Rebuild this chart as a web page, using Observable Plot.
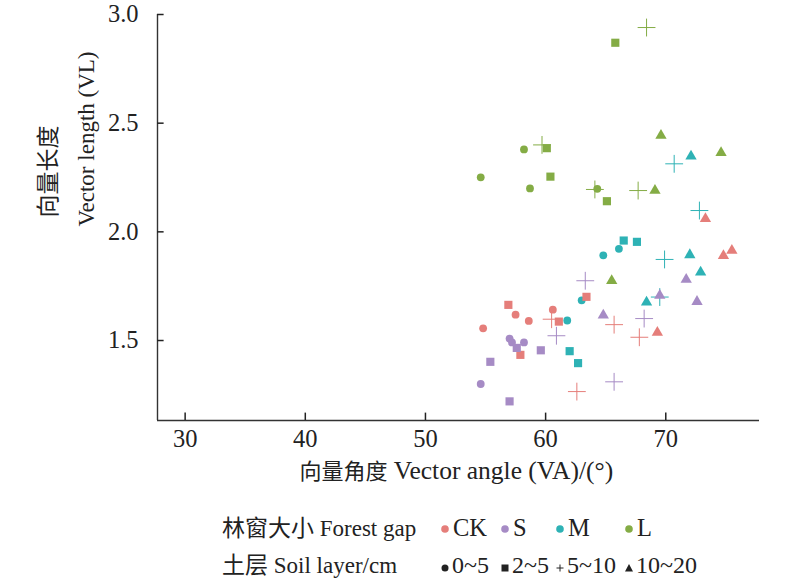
<!DOCTYPE html>
<html>
<head>
<meta charset="utf-8">
<script src="https://cdn.jsdelivr.net/npm/d3@7"></script>
<script src="https://cdn.jsdelivr.net/npm/@observablehq/plot@0.6"></script>
<style>
  body { margin: 0; background: #fff; }
  #chart { position: relative; width: 800px; font-family: "Liberation Serif", "Noto Sans CJK SC", serif; color: #222; }
  #legend { position: relative; width: 800px; height: 79px; font-size: 23px; }
  #legend span, #legend svg { position: absolute; transform: translateY(-50%); white-space: nowrap; line-height: 1; }
</style>
</head>
<body>
<div id="chart"></div>
<script>
const gaps = ["CK", "S", "M", "L"];
const gapColors = ["#e57e7a", "#a68bc5", "#2eb2b5", "#84ac45"];
const layers = ["0~5", "2~5", "5~10", "10~20"];
const xTicks = [30, 40, 50, 60, 70];
const yTicks = [1.5, 2.0, 2.5, 3.0];

// 4 points per soil layer, layers in order 0~5, 2~5, 5~10, 10~20
const angleCK  = [60.6, 57.5, 58.6, 54.8,  63.4, 56.9, 61.1, 57.9,  60.5, 65.7, 67.8, 62.6,  73.3, 75.5, 74.8, 69.3];
const lengthCK = [1.642, 1.619, 1.590, 1.556,  1.701, 1.664, 1.587, 1.434,  1.598, 1.573, 1.515, 1.265,  2.060, 1.914, 1.890, 1.537];
const angleS   = [57.0, 57.2, 58.2, 54.6,  57.6, 59.6, 55.4, 57.0,  63.3, 68.2, 60.9, 65.7,  71.7, 69.5, 72.6, 64.8];
const lengthS  = [1.509, 1.491, 1.491, 1.300,  1.466, 1.455, 1.402, 1.220,  1.775, 1.601, 1.522, 1.310,  1.781, 1.707, 1.679, 1.616];
const angleM   = [66.1, 64.8, 63.0, 61.8,  66.5, 67.6, 62.0, 62.7,  72.8, 69.9, 70.7, 69.5,  72.1, 72.0, 72.9, 68.4];
const lengthM  = [1.922, 1.892, 1.685, 1.592,  1.960, 1.954, 1.451, 1.396,  2.098, 1.873, 2.313, 1.700,  2.348, 1.894, 1.814, 1.676];
const angleL   = [58.2, 54.6, 58.7, 64.3,  65.8, 60.1, 60.4, 65.1,  68.4, 59.7, 64.1, 67.7,  69.6, 74.6, 69.1, 65.5];
const lengthL  = [2.379, 2.251, 2.200, 2.198,  2.870, 2.385, 2.254, 2.141,  2.940, 2.400, 2.195, 2.190,  2.443, 2.364, 2.190, 1.775];

const xDomain = [27.7, 77.8];
const yDomain = [1.132, 3.0];

const series = {CK: [angleCK, lengthCK], S: [angleS, lengthS], M: [angleM, lengthM], L: [angleL, lengthL]};
const data = [];
gaps.forEach(g => {
  const [a, v] = series[g];
  a.forEach((d, i) => data.push({gap: g, layer: layers[Math.floor(i / 4)], angle: d, length: v[i]}));
});
const byLayer = l => data.filter(d => d.layer === l);

const chart = Plot.plot({
  width: 800,
  height: 500,
  marginLeft: 157,
  marginRight: 41,
  marginTop: 14,
  marginBottom: 80,
  style: {fontFamily: "'Liberation Serif', 'Noto Sans CJK SC', serif", fontSize: "23px", color: "#222", background: "#fff"},
  x: {domain: xDomain, label: null, axis: null},
  y: {domain: yDomain, label: null, axis: null},
  color: {domain: gaps, range: gapColors},
  marks: [
    Plot.ruleX([xDomain[0]], {stroke: "#333", strokeWidth: 1.4}),
    Plot.ruleY([yDomain[0]], {stroke: "#333", strokeWidth: 1.4}),
    // short inward ticks (about 7px long)
    Plot.ruleX(xTicks, {x: d => d, y1: yDomain[0], y2: yDomain[0] + 0.034, stroke: "#222", strokeWidth: 1.5}),
    Plot.ruleY(yTicks, {y: d => d, x1: xDomain[0], x2: xDomain[0] + 0.55, stroke: "#222", strokeWidth: 1.5}),
    Plot.axisX(xTicks, {anchor: "bottom", tickSize: 0, tickPadding: 9, fontSize: 24.5, label: null}),
    Plot.axisY(yTicks, {anchor: "left", tickSize: 0, tickPadding: 19, fontSize: 24.5, tickFormat: d3.format(".1f"), label: null}),
    Plot.dot(byLayer("5~10"), {x: "angle", y: "length", stroke: "gap", symbol: "plus", r: 5.8, strokeWidth: 1}),
    Plot.dot(byLayer("0~5"), {x: "angle", y: "length", fill: "gap", symbol: "circle", r: 3.9}),
    Plot.dot(byLayer("2~5"), {x: "angle", y: "length", fill: "gap", symbol: "square", r: 4.6}),
    Plot.dot(byLayer("10~20"), {x: "angle", y: "length", fill: "gap", symbol: "triangle", r: 4.2}),
    Plot.text(["向量长度"], {text: d => d, frameAnchor: "left", dx: -109, rotate: -90, fontSize: 23}),
    Plot.text(["Vector length (VL)"], {text: d => d, frameAnchor: "left", dx: -71, dy: 9, rotate: -90, fontSize: 23}),
    Plot.text(["向量角度"], {text: d => d, frameAnchor: "bottom", dx: -115, dy: 58, fontSize: 22}),
    Plot.text(["Vector angle (VA)/(°)"], {text: d => d, frameAnchor: "bottom", dx: 45, dy: 58, fontSize: 25.5})
  ]
});

d3.select("#chart").append(() => chart);

// legend below the plot
const legend = d3.select("#chart").append("div").attr("id", "legend");
const row1 = 28, row2 = 65;
legend.append("span").style("left", "222px").style("top", row1 + "px").text("林窗大小 Forest gap");
legend.append("span").style("left", "222px").style("top", row2 + "px").text("土层 Soil layer/cm");

const gapX = [445, 505, 560, 629];
gaps.forEach((g, i) => {
  legend.append("svg").attr("width", 10).attr("height", 10)
    .style("left", (gapX[i] - 5) + "px").style("top", (row1 + 1) + "px")
    .append("circle").attr("cx", 5).attr("cy", 5).attr("r", 3.8).attr("fill", gapColors[i]);
  legend.append("span").style("left", (gapX[i] + 8) + "px").style("top", row1 + "px").style("font-size", "24.5px").text(g);
});

const shapes = ["circle", "square", "plus", "triangle"];
layers.forEach((l, i) => {
  const s = legend.append("svg").attr("width", 10).attr("height", 10)
    .style("left", (gapX[i] - 5) + "px").style("top", (row2 + 3) + "px");
  if (shapes[i] === "circle") s.append("circle").attr("cx", 5).attr("cy", 5).attr("r", 3.5).attr("fill", "#222");
  if (shapes[i] === "square") s.append("rect").attr("x", 1.5).attr("y", 1.5).attr("width", 7).attr("height", 7).attr("fill", "#222");
  if (shapes[i] === "plus") s.append("path").attr("d", "M1.5,5H8.5M5,1.5V8.5").attr("stroke", "#222").attr("stroke-width", 1);
  if (shapes[i] === "triangle") s.append("path").attr("d", "M5,1L9,8.5H1Z").attr("fill", "#222");
  legend.append("span").style("left", (gapX[i] + 7) + "px").style("top", row2 + "px").style("font-size", "24px").text(l);
});
</script>
</body>
</html>
